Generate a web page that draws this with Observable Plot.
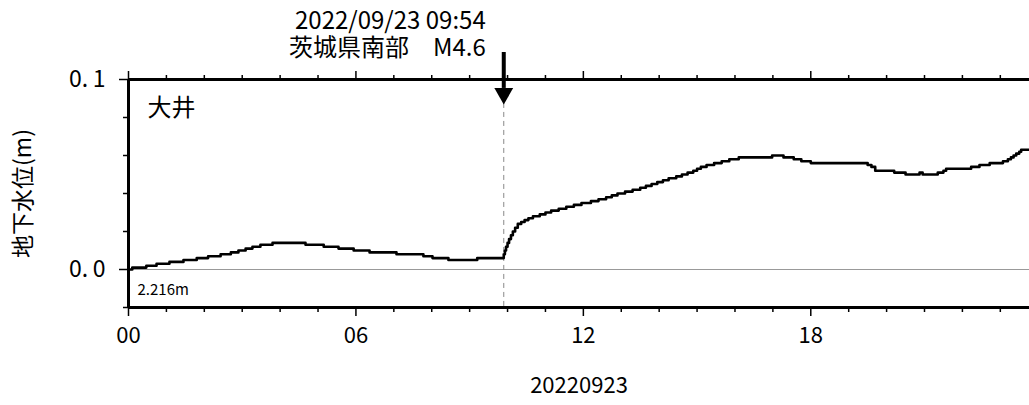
<!DOCTYPE html>
<html><head><meta charset="utf-8">
<script src="https://cdn.jsdelivr.net/npm/d3@7"></script>
<script src="https://cdn.jsdelivr.net/npm/@observablehq/plot@0.6"></script>
<style>body{margin:0;background:#fff}</style>
</head><body><div id="chart"></div>
<script>
// Water level change (m), step-change points: hour of day, level
const hours = [0,0.1,0.47,0.74,1.08,1.45,1.8,2.1,2.43,2.7,2.9,3.09,3.27,3.48,3.8,4.67,5.15,5.54,5.94,6.36,7.07,7.78,8.02,8.44,9.2,
  9.9,9.93,9.96,10.0,10.04,10.09,10.14,10.2,10.27,10.36,10.45,10.55,10.67,10.85,11.0,11.15,11.35,11.55,11.75,11.95,12.2,12.4,12.6,12.75,12.9,13.1,13.3,13.5,13.65,13.8,13.95,14.1,14.25,14.45,14.6,14.75,14.9,15.0,15.1,15.25,15.45,15.65,15.85,16.1,16.98,17.28,17.55,17.75,18.0,19.5,19.6,19.7,20.2,20.5,20.87,20.95,21.35,21.5,21.57,22.23,22.45,22.72,23.07,23.2,23.28,23.35,23.42,23.5,23.55,23.77];
const levels = [0.000,0.001,0.002,0.003,0.004,0.005,0.006,0.007,0.008,0.009,0.010,0.011,0.012,0.013,0.014,0.013,0.012,0.011,0.010,0.009,0.008,0.007,0.006,0.005,0.006,
  0.008,0.010,0.012,0.014,0.016,0.018,0.020,0.022,0.024,0.025,0.026,0.027,0.028,0.029,0.030,0.031,0.032,0.033,0.034,0.035,0.036,0.037,0.038,0.039,0.040,0.041,0.042,0.043,0.044,0.045,0.046,0.047,0.048,0.049,0.050,0.051,0.052,0.053,0.054,0.055,0.056,0.057,0.058,0.059,0.060,0.059,0.058,0.057,0.056,0.055,0.054,0.052,0.051,0.050,0.051,0.050,0.051,0.052,0.053,0.054,0.055,0.056,0.057,0.058,0.059,0.060,0.061,0.062,0.063,0.063];
const majorHours = [0, 6, 12, 18];
const minorHours = [1,2,3,4,5,7,8,9,10,11,13,14,15,16,17,19,20,21,22,23];
const yMajor = [0, 0.1];
const yMinor = [-0.02, 0.02, 0.04, 0.06, 0.08];
const xDomain = [0, 23.77];
const yDomain = [-0.02, 0.1];
const quakeHour = 9.9;
const quakeLines = ["2022/09/23 09:54", "茨城県南部\u3000M4.6"];
const station = "大井";
const baseLabel = "2.216m";
const dateLabel = "20220923";
const yLabel = "地下水位(m)";

const data = hours.map((h, i) => ({h, v: levels[i]}));
const font = "'Noto Sans CJK JP', 'Noto Sans', sans-serif";
const tk = {label: null, strokeWidth: 1.5};

const chart = Plot.plot({
  width: 1029, height: 405,
  marginTop: 79, marginBottom: 98, marginLeft: 128, marginRight: 0,
  style: {fontFamily: font, background: "#fff", color: "#000"},
  x: {domain: xDomain, axis: null},
  y: {domain: yDomain, axis: null},
  marks: [
    Plot.ruleY([0], {stroke: "#999", strokeWidth: 1}),
    Plot.ruleX([quakeHour], {y1: 0.0874, y2: yDomain[0], stroke: "#888", strokeDasharray: "5,4", strokeWidth: 1}),
    Plot.line(data, {x: "h", y: "v", curve: "step-after", stroke: "#000", strokeWidth: 2.6, clip: true}),
    // frame (top, bottom, left)
    Plot.ruleY([yDomain[1], yDomain[0]], {stroke: "#000", strokeWidth: 3}),
    Plot.ruleX([0], {stroke: "#000", strokeWidth: 3}),
    // axes ticks
    Plot.axisX(majorHours, {...tk, anchor: "bottom", tickSize: 9, tickPadding: 11, tickFormat: d3.format("02d"), fontSize: 22}),
    Plot.axisX(minorHours, {...tk, anchor: "bottom", tickSize: 5, text: null}),
    Plot.axisX(majorHours, {...tk, anchor: "top", tickSize: 9, text: null}),
    Plot.axisX(minorHours, {...tk, anchor: "top", tickSize: 5, text: null}),
    Plot.axisY(yMajor, {...tk, anchor: "left", tickSize: 9, tickPadding: 14, tickFormat: d => d.toFixed(1).replace(".", ".\u2009"), fontSize: 23}),
    Plot.axisY(yMinor, {...tk, anchor: "left", tickSize: 5, text: null}),
    // labels
    Plot.text([dateLabel], {frameAnchor: "bottom", dy: 85, fontSize: 22}),
    Plot.text([yLabel], {frameAnchor: "left", dx: -105, rotate: -90, fontSize: 23, textAnchor: "middle"}),
    Plot.text([station], {frameAnchor: "top-left", dx: 19, dy: 19, fontSize: 24, textAnchor: "start", lineAnchor: "top"}),
    Plot.text([baseLabel], {frameAnchor: "bottom-left", dx: 9, dy: -17, fontSize: 15, textAnchor: "start", lineAnchor: "middle"}),
    // earthquake annotation
    Plot.text([quakeLines.join("\n")], {x: () => quakeHour, y: () => 0.1238, dx: -18, textAnchor: "end", lineAnchor: "middle", fontSize: 24, lineHeight: 1.12}),
    Plot.ruleX([quakeHour], {y1: 0.1142, y2: 0.0953, stroke: "#000", strokeWidth: 4}),
    Plot.dot([quakeHour], {x: d => d, y: () => 0.0926, symbol: "triangle", r: 7, rotate: 180, fill: "#000", stroke: "none"})
  ]
});
document.getElementById("chart").append(chart);
</script>
</body></html>
